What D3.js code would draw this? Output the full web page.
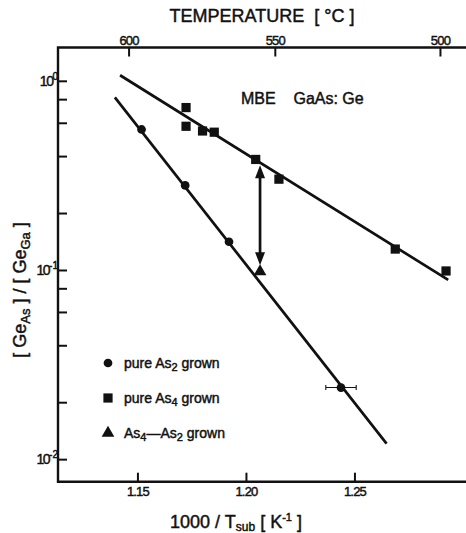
<!DOCTYPE html>
<html>
<head>
<meta charset="utf-8">
<script src="https://cdn.jsdelivr.net/npm/d3@7"></script>
<style>
  html, body { margin: 0; padding: 0; background: #fff; }
  svg { display: block; }
  text { font-family: "Liberation Sans", Arial, Helvetica, sans-serif; fill: #111;
         stroke: #111; stroke-width: 0.45px; }
</style>
</head>
<body>
<svg id="chart" width="466" height="533"></svg>
<script>
/* ── Data ─────────────────────────────────────────────── */

// pure As2 grown: 1000/T_sub [1/K] vs [Ge_As]/[Ge_Ga]
const as2X = [1.1519, 1.1720, 1.1922, 1.2438];
const as2Y = [0.553, 0.280, 0.141, 0.0239];
const as2ErrX = [null, null, null, 0.0070];   // horizontal error bar half width

// pure As4 grown
const as4X = [1.1724, 1.1724, 1.1800, 1.1854, 1.2045, 1.2152, 1.2688, 1.2922];
const as4Y = [0.722, 0.575, 0.543, 0.535, 0.384, 0.302, 0.129, 0.0988];

// As4 -> As2 grown
const switchX = [1.2065];
const switchY = [0.098];

// fitted straight lines (end points)
const fitAs4X = [1.1420, 1.2932];
const fitAs4Y = [1.07, 0.0886];
const fitAs2X = [1.1396, 1.2648];
const fitAs2Y = [0.818, 0.01207];

// arrow marking the As4 -> As2 switch
const arrowX = 1.2065;
const arrowFrom = 0.358;
const arrowTo = 0.106;

// axes
const xTicks = [1.15, 1.20, 1.25];
const xTickLabels = ['1.15', '1.20', '1.25'];
const tempTicks = [600, 550, 500];          // °C on the top axis
const yMajor = [1, 0.1, 0.01];
const yMajorExp = ['0', '-1', '-2'];
const yMinor = [0.8, 0.6, 0.4, 0.2, 0.08, 0.06, 0.04, 0.02];

/* ── Layout ───────────────────────────────────────────── */

const pLeft = 58, pRight = 466, pTop = 47.5, pBottom = 481.7;
const ink = '#111';

const svg = d3.select('#chart');

const x = d3.scaleLinear().domain([1.1134, 1.3014]).range([pLeft, pRight]);
// top temperature axis of the original is drawn slightly off the 1000/T scale
const xTop = d3.scaleLinear().domain([1.1117, 1.3058]).range([pLeft, pRight]);
const y = d3.scaleLog().domain([1.50, 0.0076]).range([pTop, pBottom]);

// ── Frame (left, top, bottom; right side open) ──────────
svg.append('path')
  .attr('d', `M${pRight},${pTop} H${pLeft} V${pBottom} H${pRight}`)
  .attr('fill', 'none').attr('stroke', ink).attr('stroke-width', 2.4);

const tickStyle = sel => sel
  .call(ax => ax.select('.domain').remove())
  .call(ax => ax.selectAll('.tick line').attr('stroke', ink).attr('stroke-width', 2));

// left axis: ticks pointing inward
svg.append('g')
  .attr('transform', `translate(${pLeft},0)`)
  .call(d3.axisLeft(y).tickValues(yMajor.concat(yMinor)).tickSize(-9).tickFormat(''))
  .call(tickStyle);

yMajor.forEach((v, i) => {
  const t = svg.append('text')
    .attr('x', pLeft).attr('y', y(v) + 5)
    .attr('text-anchor', 'end')
    .attr('font-size', 14);
  t.append('tspan').text('10').attr('letter-spacing', -1.5);
  t.append('tspan').text(yMajorExp[i]).attr('font-size', 10).attr('dy', -6);
});

// bottom axis
svg.append('g')
  .attr('transform', `translate(0,${pBottom})`)
  .call(d3.axisBottom(x).tickValues(xTicks).tickSize(-9).tickPadding(5)
    .tickFormat((d, i) => xTickLabels[i]))
  .call(tickStyle)
  .call(ax => ax.selectAll('text').attr('font-size', 13).attr('fill', ink)
    .attr('letter-spacing', -0.8).attr('font-family', '"Liberation Sans", Arial, sans-serif'));

// top axis: temperature in °C
svg.append('g')
  .attr('transform', `translate(0,${pTop})`)
  .call(d3.axisTop(xTop).tickValues(tempTicks.map(t => 1000 / (t + 273.15)))
    .tickSize(-9).tickPadding(3).tickFormat((d, i) => tempTicks[i]))
  .call(tickStyle)
  .call(ax => ax.selectAll('text').attr('font-size', 13).attr('fill', ink)
    .attr('letter-spacing', -0.8).attr('font-family', '"Liberation Sans", Arial, sans-serif'));

// axis titles
svg.append('text')
  .attr('x', 262).attr('y', 22)
  .attr('text-anchor', 'middle').attr('font-size', 18)
  .attr('xml:space', 'preserve')
  .text('TEMPERATURE  [ °C ]');

const xl = svg.append('text')
  .attr('x', 236).attr('y', 528)
  .attr('text-anchor', 'middle').attr('font-size', 18);
xl.append('tspan').text('1000 / T');
xl.append('tspan').text('sub').attr('font-size', 12).attr('dy', 3);
xl.append('tspan').text('  [ K').attr('font-size', 18).attr('dy', -3);
xl.append('tspan').text('-1').attr('font-size', 11).attr('dy', -7);
xl.append('tspan').text(' ]').attr('font-size', 18).attr('dy', 7);

const yl = svg.append('text')
  .attr('transform', 'translate(26,290) rotate(-90)')
  .attr('text-anchor', 'middle').attr('font-size', 18);
yl.append('tspan').text('[ Ge');
yl.append('tspan').text('As').attr('font-size', 13).attr('dy', 4);
yl.append('tspan').text(' ]  /  [ Ge').attr('font-size', 18).attr('dy', -4);
yl.append('tspan').text('Ga').attr('font-size', 13).attr('dy', 4);
yl.append('tspan').text(' ]').attr('font-size', 18).attr('dy', -4);

// ── Fitted lines ─────────────────────────────────────────
const line = d3.line().x(d => x(d[0])).y(d => y(d[1]));
[[fitAs4X, fitAs4Y], [fitAs2X, fitAs2Y]].forEach(([xs, ys]) => {
  svg.append('path')
    .attr('d', line(d3.zip(xs, ys)))
    .attr('fill', 'none').attr('stroke', ink).attr('stroke-width', 2.7);
});

// ── Arrow ────────────────────────────────────────────────
const ax0 = x(arrowX), ay0 = y(arrowFrom), ay1 = y(arrowTo);
svg.append('line')
  .attr('x1', ax0).attr('x2', ax0).attr('y1', ay0 + 8).attr('y2', ay1 - 8)
  .attr('stroke', ink).attr('stroke-width', 2.7);
svg.append('path')
  .attr('d', `M${ax0},${ay0} l-5,13 h10 Z M${ax0},${ay1} l-5,-13 h10 Z`)
  .attr('fill', ink);

// ── Error bar ────────────────────────────────────────────
as2X.forEach((v, i) => {
  if (!as2ErrX[i]) return;
  const yy = y(as2Y[i]), x0 = x(v - as2ErrX[i]), x1 = x(v + as2ErrX[i]);
  svg.append('path')
    .attr('d', `M${x0},${yy} H${x1} M${x0},${yy - 2.5} v5 M${x1},${yy - 2.5} v5`)
    .attr('stroke', ink).attr('stroke-width', 1.1).attr('fill', 'none');
});

// ── Markers ──────────────────────────────────────────────
const circle = d3.symbol(d3.symbolCircle, 60);
const square = d3.symbol(d3.symbolSquare, 85);
const triangle = d3.symbol(d3.symbolTriangle, 70);

svg.selectAll('.as2').data(d3.zip(as2X, as2Y)).join('path')
  .attr('class', 'as2').attr('d', circle).attr('fill', ink)
  .attr('transform', d => `translate(${x(d[0])},${y(d[1])})`);

svg.selectAll('.as4').data(d3.zip(as4X, as4Y)).join('path')
  .attr('class', 'as4').attr('d', square).attr('fill', ink)
  .attr('transform', d => `translate(${x(d[0])},${y(d[1])})`);

svg.selectAll('.sw').data(d3.zip(switchX, switchY)).join('path')
  .attr('class', 'sw').attr('d', triangle).attr('fill', ink)
  .attr('transform', d => `translate(${x(d[0])},${y(d[1])})`);

// ── Annotation ───────────────────────────────────────────
svg.append('text')
  .attr('x', 241).attr('y', 103.5).attr('font-size', 16)
  .attr('xml:space', 'preserve')
  .text('MBE    GaAs: Ge');

// ── Legend ───────────────────────────────────────────────
const legend = [
  { sym: circle,   main: 'pure As', sub: '2', tail: ' grown' },
  { sym: square,   main: 'pure As', sub: '4', tail: ' grown' },
  { sym: triangle, main: 'As', sub: '4', tail: '\u2014As', sub2: '2', tail2: ' grown' }
];
legend.forEach((l, i) => {
  const ly = 363 + i * 35;
  svg.append('path').attr('d', l.sym).attr('fill', ink)
    .attr('transform', `translate(108,${ly})`);
  const t = svg.append('text').attr('x', 124).attr('y', ly + 5).attr('font-size', 14);
  t.append('tspan').text(l.main);
  t.append('tspan').text(l.sub).attr('font-size', 11).attr('dy', 3);
  t.append('tspan').text(l.tail).attr('font-size', 14).attr('dy', -3);
  if (l.sub2) {
    t.append('tspan').text(l.sub2).attr('font-size', 11).attr('dy', 3);
    t.append('tspan').text(l.tail2).attr('font-size', 14).attr('dy', -3);
  }
});
</script>
</body>
</html>
